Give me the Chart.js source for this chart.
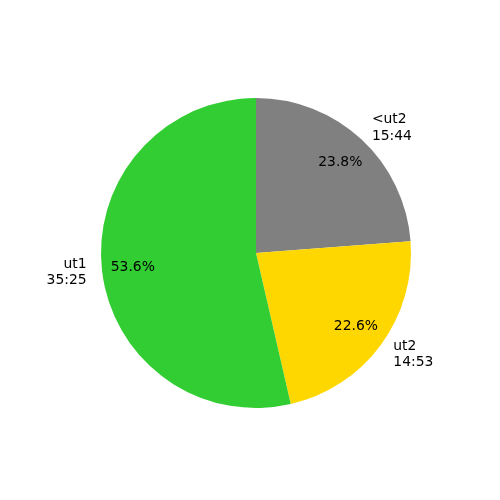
<!DOCTYPE html>
<html>
<head>
<meta charset="utf-8">
<script src="https://cdn.jsdelivr.net/npm/chart.js@4"></script>
<style>
html,body{margin:0;padding:0;background:#fff;}
#wrap{width:500px;height:500px;}
</style>
</head>
<body>
<div id="wrap"><canvas id="c" width="500" height="500"></canvas></div>
<script>
const categories = ["<ut2", "ut2", "ut1"];
const timeLabels = ["15:44", "14:53", "35:25"];
const percentValues = [23.8, 22.6, 53.6];
const colors = ["#808080", "#FFD700", "#32CD32"];

const labelPlugin = {
  id: 'mplLabels',
  afterDatasetsDraw(chart) {
    const ctx = chart.ctx;
    const meta = chart.getDatasetMeta(0);
    ctx.save();
    ctx.font = '13.9px "DejaVu Sans"';
    ctx.fillStyle = '#000';
    const lh = 16.2;
    meta.data.forEach((arc, i) => {
      const mid = (arc.startAngle + arc.endAngle) / 2;
      const r = arc.outerRadius;
      const cx = arc.x, cy = arc.y;
      ctx.textAlign = 'center';
      ctx.textBaseline = 'middle';
      ctx.fillText(percentValues[i].toFixed(1) + '%', cx + 0.8 * r * Math.cos(mid), cy + 0.8 * r * Math.sin(mid));
      const lx = cx + 1.1 * r * Math.cos(mid);
      const ly = cy + 1.1 * r * Math.sin(mid);
      ctx.textAlign = Math.cos(mid) > 0 ? 'left' : 'right';
      const lines = [categories[i], timeLabels[i]];
      const startY = ly - (lines.length - 1) * lh / 2;
      lines.forEach((t, k) => {
        ctx.fillText(t, lx, startY + k * lh);
      });
    });
    ctx.restore();
  }
};

new Chart(document.getElementById('c'), {
  type: 'pie',
  data: {
    labels: categories,
    datasets: [{
      data: percentValues,
      backgroundColor: colors,
      borderWidth: 0,
      hoverOffset: 0
    }]
  },
  options: {
    responsive: false,
    animation: false,
    layout: { padding: { left: 101, right: 89, top: 98, bottom: 92 } },
    plugins: { legend: { display: false }, tooltip: { enabled: false } }
  },
  plugins: [labelPlugin]
});
</script>
</body>
</html>
